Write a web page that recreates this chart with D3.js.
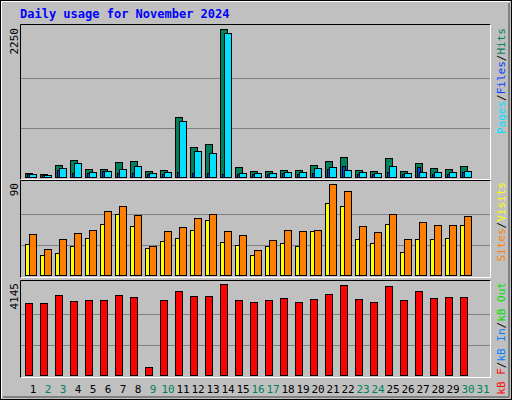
<!DOCTYPE html>
<html><head><meta charset="utf-8">
<script src="https://cdn.jsdelivr.net/npm/d3@7"></script>
<style>body{margin:0;background:#fff}svg{display:block}</style>
</head><body><svg id="c" width="512" height="400"></svg>
<script>
const days = d3.range(1, 32);
const weekend = [2,3,9,10,16,17,23,24,30,31];
const hits  = [66,51,178,255,127,127,234,249,97,112,906,453,509,2250,158,97,97,112,112,188,249,310,112,97,295,97,219,143,127,173];
const files = [51,36,143,219,81,97,127,173,66,81,845,402,372,2189,66,66,66,81,81,143,158,112,81,66,173,66,81,81,81,97];
const pages = [40,30,112,60,66,97,66,66,40,50,81,66,66,50,50,40,40,66,50,66,127,173,50,40,81,40,158,50,50,81];
const visits= [31,20,22,29,37,50,60,48,27,34,37,45,54,33,30,20,29,32,29,44,71,68,36,32,50,23,36,36,37,49];
const sites = [41,26,36,42,45,63,68,59,29,44,47,56,60,44,40,25,35,45,44,45,90,83,48,43,60,36,52,49,49,58];
const kbytes= [3279,3279,3644,3370,3416,3416,3644,3552,364,3416,3826,3598,3598,4145,3416,3325,3416,3507,3325,3461,3689,4099,3461,3325,4054,3416,3826,3507,3552,3552];
const maxTop = 2250, maxMid = 90, maxBot = 4145;

const svg = d3.select('#c');
const font = "'DejaVu Sans Mono', monospace";
// background & outer bevel
svg.append('rect').attr('x',0).attr('y',0).attr('width',512).attr('height',400).attr('fill','#c0c0c0');
svg.append('rect').attr('x',0.5).attr('y',0.5).attr('width',511).attr('height',399).attr('fill','none').attr('stroke','#000');
svg.append('path').attr('d','M1.5,398.5V1.5H510.5').attr('fill','none').attr('stroke','#fff');
svg.append('path').attr('d','M2.5,397.5H509.5V2.5').attr('fill','none').attr('stroke','#808080');
svg.append('path').attr('d','M3.5,396.5H508.5V3.5').attr('fill','none').attr('stroke','#808080');

svg.append('text').attr('x',20).attr('y',18).attr('font-family',font).attr('font-weight','bold')
  .attr('font-size',12).attr('fill','#0000ff').text('Daily usage for November 2024');

const x = d3.scaleBand().domain(days).range([20, 20+31*15]).padding(0);

function panel(y0, y1, top, max, label){
  svg.append('rect').attr('x',20).attr('y',y0).attr('width',470).attr('height',y1-y0).attr('fill','#c0c0c0');
  const y = d3.scaleLinear().domain([0,max]).range([y1-3, top]);
  [max/3, 2*max/3].forEach(v=>{
    svg.append('line').attr('x1',21).attr('x2',490).attr('y1',Math.round(y(v))+0.5).attr('y2',Math.round(y(v))+0.5).attr('stroke','#808080');
  });
  svg.append('path').attr('d',`M20.5,${y1}V${y0+0.5}H490.5`).attr('fill','none').attr('stroke','#000');
  svg.append('path').attr('d',`M20.5,${y1-0.5}H490.5V${y0+0.5}`).attr('fill','none').attr('stroke','#fff');
  svg.append('text').attr('transform',`translate(18,${top-1}) rotate(-90)`).attr('text-anchor','end')
    .attr('font-family',font).attr('font-size',11).attr('fill','#000').text(label);
  return y;
}
function bars(data, y, off, w, color){
  svg.append('g').selectAll('rect').data(data).join('rect')
    .attr('x',(d,i)=>x(days[i])+off+0.5).attr('width',w)
    .attr('y',d=>Math.round(y(d))+0.5).attr('height',d=>Math.max(0,y(0)-Math.round(y(d))))
    .attr('fill',color).attr('stroke','#000');
}
const yT = panel(24, 180, 29, maxTop, '2250');
bars(hits, yT, 5, 7, '#00805c');
bars(pages, yT, 7, 3, '#0040ff');
bars(files, yT, 9, 7, '#00e0ff');
const yM = panel(180, 278, 184, maxMid, '90');
bars(visits, yM, 5, 4, '#ffff00');
bars(sites, yM, 9, 7, '#ff8000');
const yB = panel(280, 378, 284, maxBot, '4145');
bars(kbytes, yB, 5, 7, '#ff0000');

// day labels
svg.append('g').selectAll('text').data(days).join('text')
  .attr('x',d=>x(d)+13).attr('y',393).attr('text-anchor','middle')
  .attr('font-family',font).attr('font-size',11)
  .attr('fill',d=>weekend.includes(d)?'#00805c':'#000').text(d=>d);

function rlabel(yTop, parts){
  const t = svg.append('text').attr('transform',`translate(505,${yTop}) rotate(-90)`).attr('text-anchor','end')
    .attr('font-family',font).attr('font-size',11);
  parts.forEach(p=>t.append('tspan').attr('fill',p[1]).text(p[0]));
}
rlabel(28, [['Pages','#00e0ff'],['/','#000'],['Files','#0040ff'],['/','#000'],['Hits','#00805c']]);
rlabel(182, [['Sites','#ff8000'],['/','#000'],['Visits','#ffff00']]);
rlabel(282, [['kB F','#ff0000'],['/','#000'],['kB In','#0080ff'],['/','#000'],['kB Out','#00e000']]);
</script></body></html>
